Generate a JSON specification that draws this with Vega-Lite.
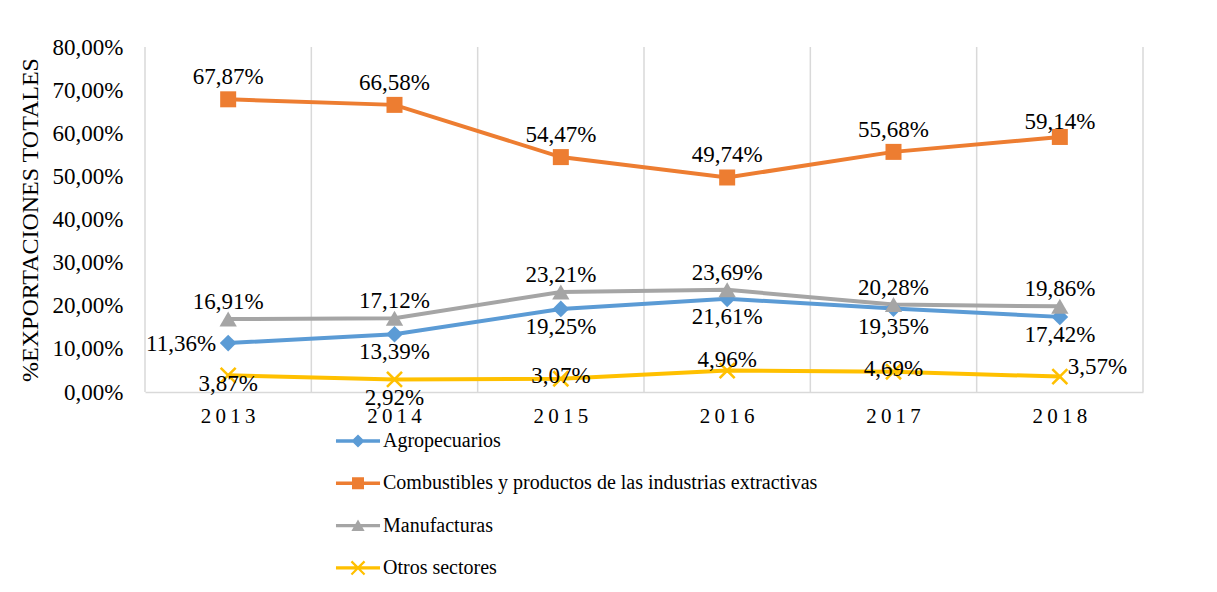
{
  "$schema": "https://vega.github.io/schema/vega-lite/v6.json",
  "width": 998,
  "height": 345,
  "autosize": {"type": "none"},
  "padding": {"left": 145, "top": 47, "right": 74, "bottom": 200},
  "background": "white",
  "config": {
    "locale": {"number": {"decimal": ",", "thousands": ".", "grouping": [3], "currency": ["", " €"]}},
    "font": "Liberation Serif",
    "view": {"stroke": null},
    "axis": {"labelFont": "Liberation Serif", "titleFont": "Liberation Serif", "labelColor": "#000", "titleColor": "#000"},
    "legend": {
      "orient": "none",
      "legendX": 203,
      "legendY": 384,
      "direction": "vertical",
      "symbolSize": 144,
      "symbolOpacity": 1,
      "symbolStrokeWidth": 0,
      "labelFont": "Liberation Serif",
      "labelFontSize": 20,
      "labelColor": "#000",
      "labelOffset": 15,
      "labelLimit": 700,
      "rowPadding": 22.3,
      "padding": 0
    }
  },
  "data": {
    "values": [
      {"year": "2013", "sector": "Agropecuarios", "value": 0.1136},
      {"year": "2014", "sector": "Agropecuarios", "value": 0.1339},
      {"year": "2015", "sector": "Agropecuarios", "value": 0.1925},
      {"year": "2016", "sector": "Agropecuarios", "value": 0.2161},
      {"year": "2017", "sector": "Agropecuarios", "value": 0.1935},
      {"year": "2018", "sector": "Agropecuarios", "value": 0.1742},
      {"year": "2013", "sector": "Combustibles y productos de las industrias extractivas", "value": 0.6787},
      {"year": "2014", "sector": "Combustibles y productos de las industrias extractivas", "value": 0.6658},
      {"year": "2015", "sector": "Combustibles y productos de las industrias extractivas", "value": 0.5447},
      {"year": "2016", "sector": "Combustibles y productos de las industrias extractivas", "value": 0.4974},
      {"year": "2017", "sector": "Combustibles y productos de las industrias extractivas", "value": 0.5568},
      {"year": "2018", "sector": "Combustibles y productos de las industrias extractivas", "value": 0.5914},
      {"year": "2013", "sector": "Manufacturas", "value": 0.1691},
      {"year": "2014", "sector": "Manufacturas", "value": 0.1712},
      {"year": "2015", "sector": "Manufacturas", "value": 0.2321},
      {"year": "2016", "sector": "Manufacturas", "value": 0.2369},
      {"year": "2017", "sector": "Manufacturas", "value": 0.2028},
      {"year": "2018", "sector": "Manufacturas", "value": 0.1986},
      {"year": "2013", "sector": "Otros sectores", "value": 0.0387},
      {"year": "2014", "sector": "Otros sectores", "value": 0.0292},
      {"year": "2015", "sector": "Otros sectores", "value": 0.0307},
      {"year": "2016", "sector": "Otros sectores", "value": 0.0496},
      {"year": "2017", "sector": "Otros sectores", "value": 0.0469},
      {"year": "2018", "sector": "Otros sectores", "value": 0.0357}
    ]
  },
  "encoding": {
    "x": {
      "field": "year",
      "type": "ordinal",
      "scale": {"paddingInner": 0, "paddingOuter": 0},
      "axis": {
        "title": null,
        "labelAngle": 0,
        "grid": false,
        "ticks": false,
        "domainColor": "#d9d9d9",
        "domainWidth": 1.5,
        "labelFontSize": 21,
        "labelPadding": 13,
        "labelExpr": "slice(datum.label,0,1) + '\u2009' + slice(datum.label,1,2) + '\u2009' + slice(datum.label,2,3) + '\u2009' + slice(datum.label,3,4)"
      }
    },
    "y": {
      "field": "value",
      "type": "quantitative",
      "scale": {"domain": [0, 0.8], "nice": false},
      "axis": {
        "title": "%EXPORTACIONES TOTALES",
        "format": ".2%",
        "values": [0, 0.1, 0.2, 0.3, 0.4, 0.5, 0.6, 0.7, 0.8],
        "grid": false,
        "domain": false,
        "ticks": false,
        "labelFontSize": 23,
        "labelPadding": 22,
        "titleFontSize": 24,
        "titleFontWeight": "normal",
        "titlePadding": 10
      }
    }
  },
  "layer": [
    {
      "transform": [{"filter": "datum.sector == 'Agropecuarios'"}],
      "mark": {"type": "rule", "color": "#d9d9d9", "strokeWidth": 1.5},
      "encoding": {"x": {"field": "year", "type": "ordinal", "bandPosition": 0}, "y": null}
    },
    {
      "transform": [{"filter": "datum.sector == 'Agropecuarios' && datum.year == '2018'"}],
      "mark": {"type": "rule", "color": "#d9d9d9", "strokeWidth": 1.5},
      "encoding": {"x": {"field": "year", "type": "ordinal", "bandPosition": 1}, "y": null}
    },
    {
      "transform": [{"filter": "datum.sector == 'Agropecuarios'"}],
      "mark": {"type": "line", "strokeWidth": 4, "color": "#5b9bd5"}
    },
    {
      "transform": [{"filter": "datum.sector == 'Combustibles y productos de las industrias extractivas'"}],
      "mark": {"type": "line", "strokeWidth": 4, "color": "#ed7d31"}
    },
    {
      "transform": [{"filter": "datum.sector == 'Manufacturas'"}],
      "mark": {"type": "line", "strokeWidth": 4, "color": "#a5a5a5"}
    },
    {
      "transform": [{"filter": "datum.sector == 'Otros sectores'"}],
      "mark": {"type": "line", "strokeWidth": 4, "color": "#ffc000"}
    },
    {
      "transform": [{"filter": "datum.sector == 'Agropecuarios'"}],
      "mark": {"type": "point", "filled": true, "opacity": 1, "shape": "diamond", "size": 280, "color": "#5b9bd5"}
    },
    {
      "transform": [{"filter": "datum.sector == 'Combustibles y productos de las industrias extractivas'"}],
      "mark": {"type": "point", "filled": true, "opacity": 1, "shape": "square", "size": 256, "color": "#ed7d31"}
    },
    {
      "transform": [{"filter": "datum.sector == 'Manufacturas'"}],
      "mark": {"type": "point", "filled": true, "opacity": 1, "shape": "triangle-up", "size": 300, "color": "#a5a5a5"}
    },
    {
      "transform": [{"filter": "datum.sector == 'Otros sectores'"}],
      "mark": {"type": "point", "filled": true, "opacity": 1, "shape": "M0,-0.24L0.88,-1.12L1.12,-0.88L0.24,0L1.12,0.88L0.88,1.12L0,0.24L-0.88,1.12L-1.12,0.88L-0.24,0L-1.12,-0.88L-0.88,-1.12Z", "size": 225, "color": "#ffc000"}
    },
    {
      "mark": {"type": "point", "filled": true, "opacity": 0},
      "encoding": {
        "color": {
          "field": "sector", "type": "nominal", "legend": {"title": null},
          "scale": {"domain": ["Agropecuarios", "Combustibles y productos de las industrias extractivas", "Manufacturas", "Otros sectores"], "range": ["#5b9bd5", "#ed7d31", "#a5a5a5", "#ffc000"]}
        },
        "shape": {
          "field": "sector", "type": "nominal", "legend": {"title": null},
          "scale": {
            "domain": ["Agropecuarios", "Combustibles y productos de las industrias extractivas", "Manufacturas", "Otros sectores"],
            "range": [
              "M-3.67,-0.28H3.67V0.28H-3.67Z M-1.1,0L0,-1.1L1.1,0L0,1.1Z",
              "M-3.67,-0.28H3.67V0.28H-3.67Z M-1,-1H1V1H-1Z",
              "M-3.67,-0.28H3.67V0.28H-3.67Z M-1.1,0.9L0,-1L1.1,0.9Z",
              "M-3.67,-0.28H3.67V0.28H-3.67Z M0,-0.26L0.96,-1.22L1.22,-0.96L0.26,0L1.22,0.96L0.96,1.22L0,0.26L-0.96,1.22L-1.22,0.96L-0.26,0L-1.22,-0.96L-0.96,-1.22Z"
            ]
          }
        }
      }
    },
    {
      "transform": [{"filter": "datum.sector == 'Combustibles y productos de las industrias extractivas' && datum.year != '2018'"}],
      "mark": {"type": "text", "fontSize": 23, "color": "#000", "baseline": "middle", "dy": -22},
      "encoding": {"text": {"field": "value", "type": "quantitative", "format": ".2%"}}
    },
    {
      "transform": [{"filter": "datum.sector == 'Combustibles y productos de las industrias extractivas' && datum.year == '2018'"}],
      "mark": {"type": "text", "fontSize": 23, "color": "#000", "baseline": "middle", "dy": -15},
      "encoding": {"text": {"field": "value", "type": "quantitative", "format": ".2%"}}
    },
    {
      "transform": [{"filter": "datum.sector == 'Manufacturas'"}],
      "mark": {"type": "text", "fontSize": 23, "color": "#000", "baseline": "middle", "dy": -17},
      "encoding": {"text": {"field": "value", "type": "quantitative", "format": ".2%"}}
    },
    {
      "transform": [{"filter": "datum.sector == 'Agropecuarios' && datum.year == '2013'"}],
      "mark": {"type": "text", "fontSize": 23, "color": "#000", "baseline": "middle", "align": "right", "dx": -12, "dy": 1},
      "encoding": {"text": {"field": "value", "type": "quantitative", "format": ".2%"}}
    },
    {
      "transform": [{"filter": "datum.sector == 'Agropecuarios' && datum.year != '2013'"}],
      "mark": {"type": "text", "fontSize": 23, "color": "#000", "baseline": "middle", "dy": 18},
      "encoding": {"text": {"field": "value", "type": "quantitative", "format": ".2%"}}
    },
    {
      "transform": [{"filter": "datum.sector == 'Otros sectores' && datum.year == '2013'"}],
      "mark": {"type": "text", "fontSize": 23, "color": "#000", "baseline": "middle", "dy": 9},
      "encoding": {"text": {"field": "value", "type": "quantitative", "format": ".2%"}}
    },
    {
      "transform": [{"filter": "datum.sector == 'Otros sectores' && datum.year == '2014'"}],
      "mark": {"type": "text", "fontSize": 23, "color": "#000", "baseline": "middle", "dy": 19},
      "encoding": {"text": {"field": "value", "type": "quantitative", "format": ".2%"}}
    },
    {
      "transform": [{"filter": "datum.sector == 'Otros sectores' && (datum.year == '2015' || datum.year == '2017')"}],
      "mark": {"type": "text", "fontSize": 23, "color": "#000", "baseline": "middle", "dy": -3},
      "encoding": {"text": {"field": "value", "type": "quantitative", "format": ".2%"}}
    },
    {
      "transform": [{"filter": "datum.sector == 'Otros sectores' && datum.year == '2016'"}],
      "mark": {"type": "text", "fontSize": 23, "color": "#000", "baseline": "middle", "dy": -11},
      "encoding": {"text": {"field": "value", "type": "quantitative", "format": ".2%"}}
    },
    {
      "transform": [{"filter": "datum.sector == 'Otros sectores' && datum.year == '2018'"}],
      "mark": {"type": "text", "fontSize": 23, "color": "#000", "baseline": "middle", "align": "left", "dx": 8, "dy": -10},
      "encoding": {"text": {"field": "value", "type": "quantitative", "format": ".2%"}}
    }
  ]
}
